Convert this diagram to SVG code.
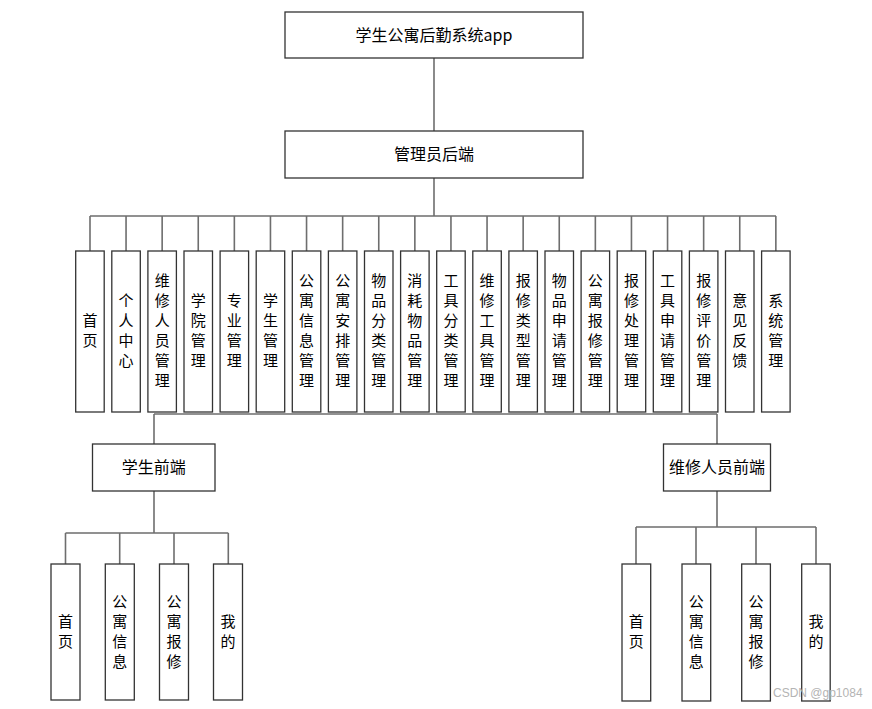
<svg xmlns="http://www.w3.org/2000/svg" width="872" height="709" viewBox="0 0 872 709">
<style>
.box{fill:#fff;stroke:#333;stroke-width:1.3}
.ln{fill:none;stroke:#6e6e6e;stroke-width:1.6}
.t{font-family:"Noto Sans CJK SC","Noto Sans",sans-serif;font-size:16px;fill:#000;text-anchor:middle}
.v{font-family:"Noto Sans CJK SC","Noto Sans",sans-serif;font-size:15px;fill:#000;text-anchor:middle}
.wm{font-family:"Liberation Sans",sans-serif;font-size:12px;fill:#b4b4b4}
</style>
<rect width="872" height="709" fill="#fff"/>
<g id="connectors">
<path class="ln" d="M434 58V131M434 178V216M90 216H776"/>
<path class="ln" d="M90 216V251M126.05 216V251M162.15 216V251M198.25 216V251M234.35 216V251M270.45 216V251M306.55 216V251M342.65 216V251M378.75 216V251M414.85 216V251M450.95 216V251M487.05 216V251M523.15 216V251M559.25 216V251M595.35 216V251M631.45 216V251M667.55 216V251M703.65 216V251M739.75 216V251M775.85 216V251"/>
<path class="ln" d="M154 414H717M154 414V444M717 414V444"/>
<path class="ln" d="M154 491V533M65.5 533H228.3M65.5 533V564M119.7 533V564M174 533V564M228.3 533V564"/>
<path class="ln" d="M717 491V527M636 527H816M636 527V564M696 527V564M756 527V564M816 527V564"/>
</g>
<g id="root"><rect class="box" x="285" y="12" width="298" height="46"/><text class="t" x="434" y="41">学生公寓后勤系统app</text></g>
<g id="admin"><rect class="box" x="285" y="131" width="298" height="47"/><text class="t" x="434" y="160">管理员后端</text></g>
<g id="a0"><rect class="box" x="75.7" y="251" width="28.5" height="161"/><text class="v"><tspan x="89.95" y="326">首</tspan><tspan x="89.95" y="346">页</tspan></text></g>
<g id="a1"><rect class="box" x="111.8" y="251" width="28.5" height="161"/><text class="v"><tspan x="126.05" y="306">个</tspan><tspan x="126.05" y="326">人</tspan><tspan x="126.05" y="346">中</tspan><tspan x="126.05" y="366">心</tspan></text></g>
<g id="a2"><rect class="box" x="147.9" y="251" width="28.5" height="161"/><text class="v"><tspan x="162.15" y="286">维</tspan><tspan x="162.15" y="306">修</tspan><tspan x="162.15" y="326">人</tspan><tspan x="162.15" y="346">员</tspan><tspan x="162.15" y="366">管</tspan><tspan x="162.15" y="386">理</tspan></text></g>
<g id="a3"><rect class="box" x="184" y="251" width="28.5" height="161"/><text class="v"><tspan x="198.25" y="306">学</tspan><tspan x="198.25" y="326">院</tspan><tspan x="198.25" y="346">管</tspan><tspan x="198.25" y="366">理</tspan></text></g>
<g id="a4"><rect class="box" x="220.1" y="251" width="28.5" height="161"/><text class="v"><tspan x="234.35" y="306">专</tspan><tspan x="234.35" y="326">业</tspan><tspan x="234.35" y="346">管</tspan><tspan x="234.35" y="366">理</tspan></text></g>
<g id="a5"><rect class="box" x="256.2" y="251" width="28.5" height="161"/><text class="v"><tspan x="270.45" y="306">学</tspan><tspan x="270.45" y="326">生</tspan><tspan x="270.45" y="346">管</tspan><tspan x="270.45" y="366">理</tspan></text></g>
<g id="a6"><rect class="box" x="292.3" y="251" width="28.5" height="161"/><text class="v"><tspan x="306.55" y="286">公</tspan><tspan x="306.55" y="306">寓</tspan><tspan x="306.55" y="326">信</tspan><tspan x="306.55" y="346">息</tspan><tspan x="306.55" y="366">管</tspan><tspan x="306.55" y="386">理</tspan></text></g>
<g id="a7"><rect class="box" x="328.4" y="251" width="28.5" height="161"/><text class="v"><tspan x="342.65" y="286">公</tspan><tspan x="342.65" y="306">寓</tspan><tspan x="342.65" y="326">安</tspan><tspan x="342.65" y="346">排</tspan><tspan x="342.65" y="366">管</tspan><tspan x="342.65" y="386">理</tspan></text></g>
<g id="a8"><rect class="box" x="364.5" y="251" width="28.5" height="161"/><text class="v"><tspan x="378.75" y="286">物</tspan><tspan x="378.75" y="306">品</tspan><tspan x="378.75" y="326">分</tspan><tspan x="378.75" y="346">类</tspan><tspan x="378.75" y="366">管</tspan><tspan x="378.75" y="386">理</tspan></text></g>
<g id="a9"><rect class="box" x="400.6" y="251" width="28.5" height="161"/><text class="v"><tspan x="414.85" y="286">消</tspan><tspan x="414.85" y="306">耗</tspan><tspan x="414.85" y="326">物</tspan><tspan x="414.85" y="346">品</tspan><tspan x="414.85" y="366">管</tspan><tspan x="414.85" y="386">理</tspan></text></g>
<g id="a10"><rect class="box" x="436.7" y="251" width="28.5" height="161"/><text class="v"><tspan x="450.95" y="286">工</tspan><tspan x="450.95" y="306">具</tspan><tspan x="450.95" y="326">分</tspan><tspan x="450.95" y="346">类</tspan><tspan x="450.95" y="366">管</tspan><tspan x="450.95" y="386">理</tspan></text></g>
<g id="a11"><rect class="box" x="472.8" y="251" width="28.5" height="161"/><text class="v"><tspan x="487.05" y="286">维</tspan><tspan x="487.05" y="306">修</tspan><tspan x="487.05" y="326">工</tspan><tspan x="487.05" y="346">具</tspan><tspan x="487.05" y="366">管</tspan><tspan x="487.05" y="386">理</tspan></text></g>
<g id="a12"><rect class="box" x="508.9" y="251" width="28.5" height="161"/><text class="v"><tspan x="523.15" y="286">报</tspan><tspan x="523.15" y="306">修</tspan><tspan x="523.15" y="326">类</tspan><tspan x="523.15" y="346">型</tspan><tspan x="523.15" y="366">管</tspan><tspan x="523.15" y="386">理</tspan></text></g>
<g id="a13"><rect class="box" x="545" y="251" width="28.5" height="161"/><text class="v"><tspan x="559.25" y="286">物</tspan><tspan x="559.25" y="306">品</tspan><tspan x="559.25" y="326">申</tspan><tspan x="559.25" y="346">请</tspan><tspan x="559.25" y="366">管</tspan><tspan x="559.25" y="386">理</tspan></text></g>
<g id="a14"><rect class="box" x="581.1" y="251" width="28.5" height="161"/><text class="v"><tspan x="595.35" y="286">公</tspan><tspan x="595.35" y="306">寓</tspan><tspan x="595.35" y="326">报</tspan><tspan x="595.35" y="346">修</tspan><tspan x="595.35" y="366">管</tspan><tspan x="595.35" y="386">理</tspan></text></g>
<g id="a15"><rect class="box" x="617.2" y="251" width="28.5" height="161"/><text class="v"><tspan x="631.45" y="286">报</tspan><tspan x="631.45" y="306">修</tspan><tspan x="631.45" y="326">处</tspan><tspan x="631.45" y="346">理</tspan><tspan x="631.45" y="366">管</tspan><tspan x="631.45" y="386">理</tspan></text></g>
<g id="a16"><rect class="box" x="653.3" y="251" width="28.5" height="161"/><text class="v"><tspan x="667.55" y="286">工</tspan><tspan x="667.55" y="306">具</tspan><tspan x="667.55" y="326">申</tspan><tspan x="667.55" y="346">请</tspan><tspan x="667.55" y="366">管</tspan><tspan x="667.55" y="386">理</tspan></text></g>
<g id="a17"><rect class="box" x="689.4" y="251" width="28.5" height="161"/><text class="v"><tspan x="703.65" y="286">报</tspan><tspan x="703.65" y="306">修</tspan><tspan x="703.65" y="326">评</tspan><tspan x="703.65" y="346">价</tspan><tspan x="703.65" y="366">管</tspan><tspan x="703.65" y="386">理</tspan></text></g>
<g id="a18"><rect class="box" x="725.5" y="251" width="28.5" height="161"/><text class="v"><tspan x="739.75" y="306">意</tspan><tspan x="739.75" y="326">见</tspan><tspan x="739.75" y="346">反</tspan><tspan x="739.75" y="366">馈</tspan></text></g>
<g id="a19"><rect class="box" x="761.6" y="251" width="28.5" height="161"/><text class="v"><tspan x="775.85" y="306">系</tspan><tspan x="775.85" y="326">统</tspan><tspan x="775.85" y="346">管</tspan><tspan x="775.85" y="366">理</tspan></text></g>
<g id="student"><rect class="box" x="92.5" y="444" width="122.5" height="47"/><text class="t" x="153.7" y="473">学生前端</text></g>
<g id="repair"><rect class="box" x="663.5" y="444" width="107" height="47"/><text class="t" x="717" y="473">维修人员前端</text></g>
<g id="s0"><rect class="box" x="51" y="564" width="29" height="136"/><text class="v"><tspan x="65.5" y="627">首</tspan><tspan x="65.5" y="647">页</tspan></text></g>
<g id="s1"><rect class="box" x="105.3" y="564" width="29" height="136"/><text class="v"><tspan x="119.8" y="607">公</tspan><tspan x="119.8" y="627">寓</tspan><tspan x="119.8" y="647">信</tspan><tspan x="119.8" y="667">息</tspan></text></g>
<g id="s2"><rect class="box" x="159.5" y="564" width="29" height="136"/><text class="v"><tspan x="174" y="607">公</tspan><tspan x="174" y="627">寓</tspan><tspan x="174" y="647">报</tspan><tspan x="174" y="667">修</tspan></text></g>
<g id="s3"><rect class="box" x="213.5" y="564" width="29" height="136"/><text class="v"><tspan x="228" y="627">我</tspan><tspan x="228" y="647">的</tspan></text></g>
<g id="r0"><rect class="box" x="622" y="564" width="28.7" height="137"/><text class="v"><tspan x="636.3" y="627">首</tspan><tspan x="636.3" y="647">页</tspan></text></g>
<g id="r1"><rect class="box" x="682" y="564" width="28.7" height="137"/><text class="v"><tspan x="696.3" y="607">公</tspan><tspan x="696.3" y="627">寓</tspan><tspan x="696.3" y="647">信</tspan><tspan x="696.3" y="667">息</tspan></text></g>
<g id="r2"><rect class="box" x="741.7" y="564" width="28.7" height="137"/><text class="v"><tspan x="756" y="607">公</tspan><tspan x="756" y="627">寓</tspan><tspan x="756" y="647">报</tspan><tspan x="756" y="667">修</tspan></text></g>
<g id="r3"><rect class="box" x="801.7" y="564" width="28.5" height="137"/><text class="v"><tspan x="816" y="627">我</tspan><tspan x="816" y="647">的</tspan></text></g>
<text class="wm" x="773" y="697">CSDN @gp1084</text>
</svg>
